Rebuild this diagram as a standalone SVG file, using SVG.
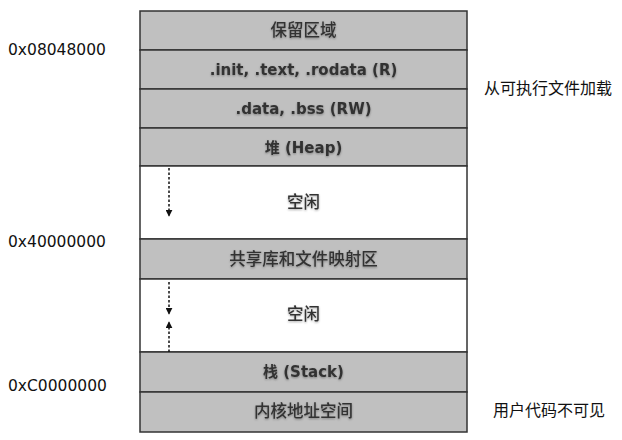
<svg xmlns="http://www.w3.org/2000/svg" width="622" height="440" viewBox="0 0 622 440">
<style>
.seg{fill:#c0c0c0;stroke:#333;stroke-width:1.5}
.free{fill:#fff;stroke:#333;stroke-width:1.5}
.t{font-family:"DejaVu Sans","Noto Sans CJK SC",sans-serif;font-size:15px;font-weight:bold;fill:#333;text-anchor:middle;filter:url(#sh)}
.tc{font-family:"Noto Sans CJK SC",sans-serif;font-size:16.5px;font-weight:500;fill:#333;text-anchor:middle;filter:url(#sh)}
.addr{font-family:"DejaVu Sans",sans-serif;font-size:15.5px;fill:#111}
.note{font-family:"Noto Sans CJK SC",sans-serif;font-size:16px;fill:#111;text-anchor:middle}
.dash{stroke:#111;stroke-width:1.5;stroke-dasharray:2.5,2;fill:none}
</style>
<defs>
<filter id="sh" x="-10%" y="-30%" width="120%" height="160%">
<feDropShadow dx="0" dy="1" stdDeviation="1" flood-color="#000" flood-opacity="0.35"/>
</filter>
<marker id="ah" viewBox="0 0 10 10" refX="9" refY="5" markerWidth="7" markerHeight="7" orient="auto" markerUnits="userSpaceOnUse">
<path d="M0,0 L10,5 L0,10 z" fill="#111"/>
</marker>
</defs>
<g id="reserved"><rect class="seg" x="140" y="11" width="327" height="39"/><text class="tc" x="303.5" y="36">保留区域</text></g>
<g id="text"><rect class="seg" x="140" y="50" width="327" height="39"/><text class="t" x="303.5" y="75">.init, .text, .rodata (R)</text></g>
<g id="data"><rect class="seg" x="140" y="89" width="327" height="39"/><text class="t" x="303.5" y="114">.data, .bss (RW)</text></g>
<g id="heap"><rect class="seg" x="140" y="128" width="327" height="38"/><text class="t" x="303.5" y="153">堆 (Heap)</text></g>
<g id="free1"><rect class="free" x="140" y="166" width="327" height="73"/><text class="tc" x="303.5" y="208">空闲</text></g>
<g id="shared"><rect class="seg" x="140" y="239" width="327" height="40"/><text class="tc" x="303.5" y="265">共享库和文件映射区</text></g>
<g id="free2"><rect class="free" x="140" y="279" width="327" height="73"/><text class="tc" x="303.5" y="320">空闲</text></g>
<g id="stack"><rect class="seg" x="140" y="352" width="327" height="40"/><text class="t" x="303.5" y="377">栈 (Stack)</text></g>
<g id="kernel"><rect class="seg" x="140" y="392" width="327" height="40"/><text class="tc" x="303.5" y="417">内核地址空间</text></g>
<g id="connectors">
<line class="dash" x1="169" y1="168" x2="169" y2="216" marker-end="url(#ah)"/>
<line class="dash" x1="169" y1="282" x2="169" y2="314" marker-end="url(#ah)"/>
<line class="dash" x1="169" y1="352" x2="169" y2="322" marker-end="url(#ah)"/>
</g>
<g id="labels">
<text class="addr" x="8" y="55">0x08048000</text>
<text class="addr" x="8" y="247">0x40000000</text>
<text class="addr" x="8" y="391">0xC0000000</text>
<text class="note" x="548" y="94">从可执行文件加载</text>
<text class="note" x="549" y="416">用户代码不可见</text>
</g>
</svg>
